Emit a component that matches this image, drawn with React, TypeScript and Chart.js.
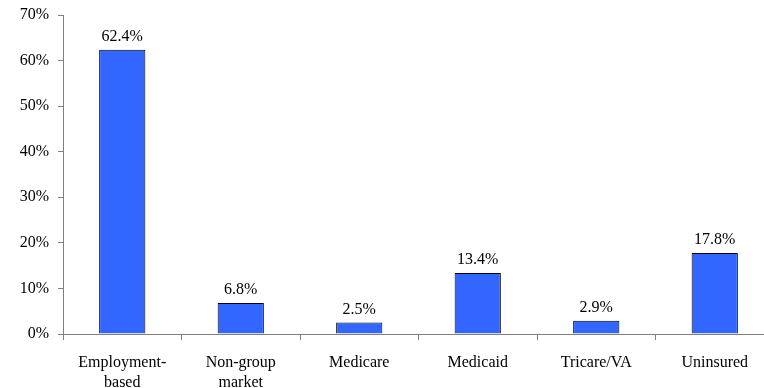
import React, { useEffect, useRef } from "react";
import { Chart, registerables } from "chart.js";

Chart.register(...registerables);

const categories: string[][] = [
  ["Employment-", "based"],
  ["Non-group", "market"],
  ["Medicare"],
  ["Medicaid"],
  ["Tricare/VA"],
  ["Uninsured"],
];
const shares: number[] = [62.4, 6.8, 2.5, 13.4, 2.9, 17.8];
const yTicks: number[] = [0, 10, 20, 30, 40, 50, 60, 70];

const FONT = "'Liberation Serif', 'Times New Roman', serif";
const AXIS = "#808080";

const valueLabels = {
  id: "valueLabels",
  afterDatasetsDraw(chart: any) {
    const ctx = chart.ctx;
    const meta = chart.getDatasetMeta(0);
    ctx.save();
    ctx.font = `16px ${FONT}`;
    ctx.fillStyle = "#000";
    ctx.textAlign = "center";
    ctx.textBaseline = "alphabetic";
    meta.data.forEach((bar: any, i: number) => {
      ctx.fillText(`${shares[i].toFixed(1)}%`, bar.x, bar.y - 9);
    });
    ctx.restore();
  },
};

export default function App() {
  const ref = useRef<HTMLCanvasElement>(null);

  useEffect(() => {
    if (!ref.current) return;
    const chart = new Chart(ref.current, {
      type: "bar",
      data: {
        labels: categories,
        datasets: [
          {
            data: shares,
            backgroundColor: "#3366FF",
            borderColor: "#000",
            borderWidth: 1,
            categoryPercentage: 1,
            barPercentage: 0.39,
          },
        ],
      },
      options: {
        animation: false,
        responsive: false,
        devicePixelRatio: 1,
        layout: { padding: { left: 0, right: 16, top: 15, bottom: 0 } },
        plugins: { legend: { display: false }, tooltip: { enabled: false } },
        scales: {
          x: {
            offset: true,
            grid: {
              offset: true,
              drawOnChartArea: false,
              drawTicks: true,
              tickLength: 6,
              color: AXIS,
            },
            border: { color: AXIS, width: 1 },
            ticks: {
              color: "#000",
              padding: 13,
              maxRotation: 0,
              autoSkip: false,
              font: { family: FONT, size: 16, lineHeight: 1.25 },
            },
            afterFit: (s: any) => {
              s.height = 54;
              s.paddingLeft = 0;
              s.paddingRight = 0;
            },
          },
          y: {
            min: 0,
            max: 70,
            afterBuildTicks: (s: any) => {
              s.ticks = yTicks.map((v) => ({ value: v }));
            },
            grid: {
              drawOnChartArea: false,
              drawTicks: true,
              tickLength: 5,
              color: AXIS,
            },
            border: { color: AXIS, width: 1 },
            ticks: {
              color: "#000",
              padding: 9,
              font: { family: FONT, size: 16 },
              callback: (v: any) => `${v}%`,
            },
            afterFit: (s: any) => {
              s.width = 63;
              s.paddingTop = 0;
              s.paddingBottom = 0;
            },
          },
        },
      },
      plugins: [valueLabels],
    });
    return () => chart.destroy();
  }, []);

  return (
    <div
      style={{
        position: "fixed",
        left: 0,
        top: 0,
        width: 764,
        height: 388,
        overflow: "hidden",
        background: "#fff",
      }}
    >
      <canvas ref={ref} width={790} height={388} />
    </div>
  );
}
